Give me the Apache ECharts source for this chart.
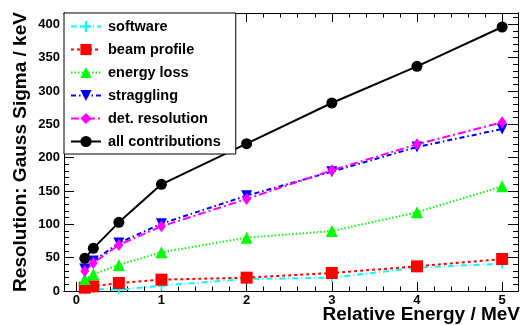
<!DOCTYPE html>
<html><head><meta charset="utf-8">
<script src="https://cdn.jsdelivr.net/npm/echarts@6/dist/echarts.min.js"></script>
<style>html,body{margin:0;padding:0;background:#fff}#c{width:523px;height:325px}</style>
</head><body><div id="c"></div>
<script>
const energies = [0.1, 0.2, 0.5, 1, 2, 3, 4, 5];
const software = [2, 3, 2, 8, 18, 20, 35, 41];
const beamProfile = [5, 7, 12, 17, 20, 27, 37, 48];
const energyLoss = [18, 25, 39, 58, 80, 90, 118, 157];
const straggling = [33, 45, 72, 101, 143, 179, 216, 243];
const detResolution = [30, 42, 69, 97, 138, 181, 220, 253];
const allContributions = [49, 64, 103, 160, 221, 282, 337, 396];
const seriesNames = ['software', 'beam profile', 'energy loss', 'straggling', 'det. resolution', 'all contributions'];
const xMajor = [0, 1, 2, 3, 4, 5];
const xMinor = [0.2,0.4,0.6,0.8,1.2,1.4,1.6,1.8,2.2,2.4,2.6,2.8,3.2,3.4,3.6,3.8,4.2,4.4,4.6,4.8];
const yMajor = [0, 50, 100, 150, 200, 250, 300, 350, 400];
const yMinor = [10,20,30,40,60,70,80,90,110,120,130,140,160,170,180,190,210,220,230,240,260,270,280,290,310,320,330,340,360,370,380,390,410];

const FONT = '"Liberation Sans", Arial, sans-serif';
const XMIN = -0.144, XMAX = 5.186, YMIN = 0, YMAX = 417;

function pairs(vals){ return energies.map((e,i)=>[e, vals[i]]); }

function xAx(pos, ticks, len, labels){
  return {type:'value', position:pos, min:XMIN, max:XMAX,
    axisLine:{show:true, onZero:false, lineStyle:{color:'#000', width:1}},
    axisTick:{show:true, inside:true, length:len, customValues:ticks, lineStyle:{color:'#000', width:1}},
    axisLabel: labels ? {show:true, customValues:ticks, margin:3, fontFamily:FONT, fontWeight:'bold', fontSize:13, color:'#000'} : {show:false},
    splitLine:{show:false}};
}
function yAx(pos, ticks, len, labels){
  return {type:'value', position:pos, min:YMIN, max:YMAX,
    axisLine:{show:true, onZero:false, lineStyle:{color:'#000', width:1}},
    axisTick:{show:true, inside:true, length:len, customValues:ticks, lineStyle:{color:'#000', width:1}},
    axisLabel: labels ? {show:true, customValues:ticks, margin:4, fontFamily:FONT, fontWeight:'bold', fontSize:13, color:'#000'} : {show:false},
    splitLine:{show:false}};
}

const crossPath = 'path://M4,0L6,0L6,4L10,4L10,6L6,6L6,10L4,10L4,6L0,6L0,4L4,4Z';
const downTri = 'path://M0,0L10,0L5,10Z';

function mkSeries(name, vals, color, dash, symbol, size){
  return {name:name, type:'line', xAxisIndex:0, yAxisIndex:0, data:pairs(vals),
    symbol:symbol, symbolSize:size, showSymbol:true,
    lineStyle:{color:color, width:2, type:dash},
    itemStyle:{color:color, borderWidth:0},
    emphasis:{disabled:true}, animation:false};
}

const chart = echarts.init(document.getElementById('c'), null, {renderer:'canvas'});
chart.setOption({
  animation:false,
  backgroundColor:'#fff',
  grid:{left:64, right:5, top:13, bottom:34, containLabel:false},
  xAxis:[xAx('bottom', xMajor, 9, true), xAx('bottom', xMinor, 4.5, false), xAx('top', xMajor, 9, false), xAx('top', xMinor, 4.5, false)],
  yAxis:[yAx('left', yMajor, 10, true), yAx('left', yMinor, 5, false), yAx('right', yMajor, 10, false), yAx('right', yMinor, 5, false)],
  legend:{show:true, orient:'vertical', left:64, top:13, itemWidth:30, itemHeight:14, itemGap:8,
    padding:[6,15,5,6], backgroundColor:'#fff', borderColor:'#000', borderWidth:1, borderRadius:0,
    textStyle:{fontFamily:FONT, fontWeight:'bold', fontSize:14.5, color:'#000', padding:[0,0,0,2]},
    data:seriesNames, z:10},
  series:[
    mkSeries(seriesNames[0], software, '#00ffff', [6,3,1,3], crossPath, 9),
    mkSeries(seriesNames[1], beamProfile, '#ff0000', [3,3], 'rect', 12),
    mkSeries(seriesNames[2], energyLoss, '#00ff00', [1.5,2], 'triangle', 12),
    mkSeries(seriesNames[3], straggling, '#0000ff', [5,3,1.5,3], downTri, 11),
    mkSeries(seriesNames[4], detResolution, '#ff00ff', [8,3,2,3], 'diamond', [9,12]),
    mkSeries(seriesNames[5], allContributions, '#000000', 'solid', 'circle', 11)
  ],
  graphic:[
    {type:'text', x:21, y:152, rotation:Math.PI/2, style:{text:'Resolution: Gauss Sigma / keV', fontFamily:FONT, fontWeight:'bold', fontSize:19, fill:'#000', align:'center', verticalAlign:'middle'}},
    {type:'text', x:520, y:315, style:{text:'Relative Energy / MeV', fontFamily:FONT, fontWeight:'bold', fontSize:19, fill:'#000', align:'right', verticalAlign:'middle'}}
  ]
});
</script></body></html>
